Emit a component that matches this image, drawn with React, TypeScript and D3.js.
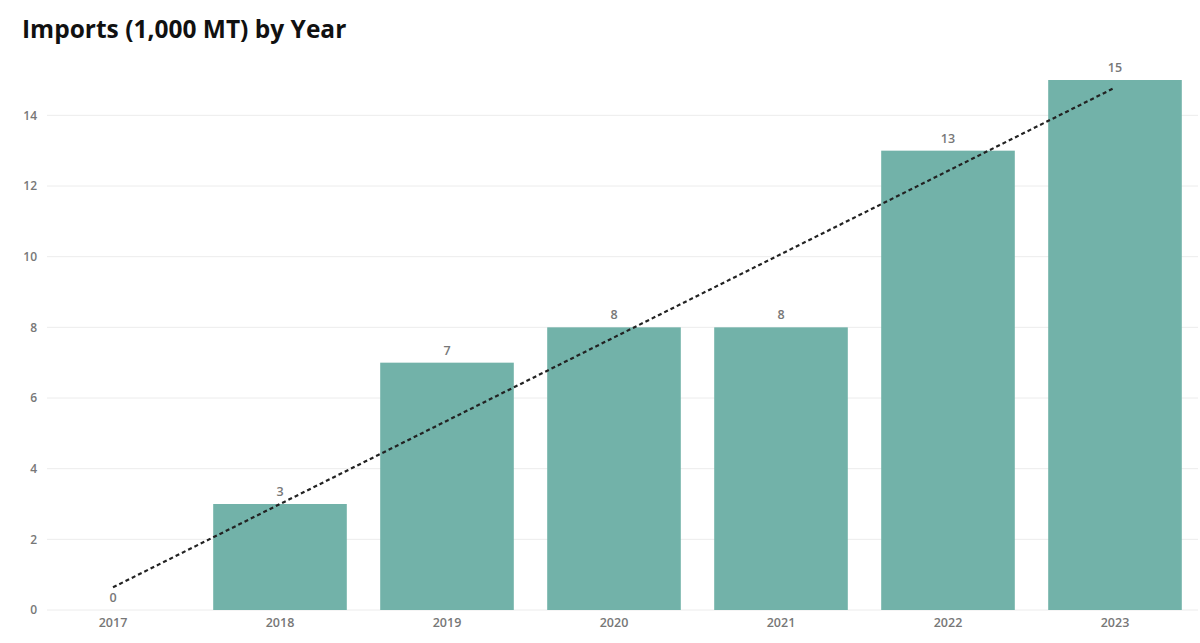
import React from "react";
import * as d3 from "d3";

const years = ["2017", "2018", "2019", "2020", "2021", "2022", "2023"];
const imports = [0, 3, 7, 8, 8, 13, 15];
const yTicks = [0, 2, 4, 6, 8, 10, 12, 14];

const width = 1200;
const height = 643;
const barColor = "#72b2a9";
const textGray = "#777777";
const font = "'Open Sans', 'DejaVu Sans', sans-serif";

export default function App() {
  const x = d3
    .scaleBand<string>()
    .domain(years)
    .range([29.5, 1198.5])
    .paddingInner(0.2)
    .paddingOuter(0.1);

  const y = d3.scaleLinear().domain([0, 15]).range([610, 80]);

  // least squares trend line over year index
  const idx = years.map((_, i) => i);
  const mx = d3.mean(idx) as number;
  const my = d3.mean(imports) as number;
  const sxy = d3.sum(idx, (i) => (i - mx) * (imports[i] - my));
  const sxx = d3.sum(idx, (i) => (i - mx) * (i - mx));
  const slope = sxy / sxx;
  const intercept = my - slope * mx;
  const cx = (yr: string) => (x(yr) as number) + x.bandwidth() / 2;
  const trend = d3
    .line<number>()
    .x((i) => cx(years[i]))
    .y((i) => y(intercept + slope * i));

  return (
    <svg
      width={width}
      height={height}
      style={{ position: "absolute", left: 0, top: 0, background: "#fff" }}
      fontFamily={font}
    >
      <text x={22} y={38} fontSize={24.5} fontWeight={700} fill="#111">
        Imports (1,000 MT) by Year
      </text>

      {yTicks.map((t) => (
        <g key={t}>
          <line x1={47} x2={1198} y1={y(t)} y2={y(t)} stroke="#ececec" strokeWidth={1} />
          <text
            x={37}
            y={y(t)}
            dy="0.35em"
            textAnchor="end"
            fontSize={12}
            fontWeight={600}
            fill={textGray}
          >
            {t}
          </text>
        </g>
      ))}

      {years.map((yr, i) => (
        <g key={yr}>
          <rect
            x={x(yr)}
            y={y(imports[i])}
            width={x.bandwidth()}
            height={y(0) - y(imports[i])}
            fill={barColor}
          />
          <text
            x={cx(yr)}
            y={y(imports[i]) - 8}
            textAnchor="middle"
            fontSize={12.5}
            fontWeight={600}
            fill={textGray}
          >
            {imports[i]}
          </text>
          <text
            x={cx(yr)}
            y={627}
            textAnchor="middle"
            fontSize={12.5}
            fontWeight={600}
            fill={textGray}
          >
            {yr}
          </text>
        </g>
      ))}

      <path
        d={trend([0, idx.length - 1]) || ""}
        fill="none"
        stroke="#222"
        strokeWidth={2.2}
        strokeDasharray="4,3"
      />
    </svg>
  );
}
